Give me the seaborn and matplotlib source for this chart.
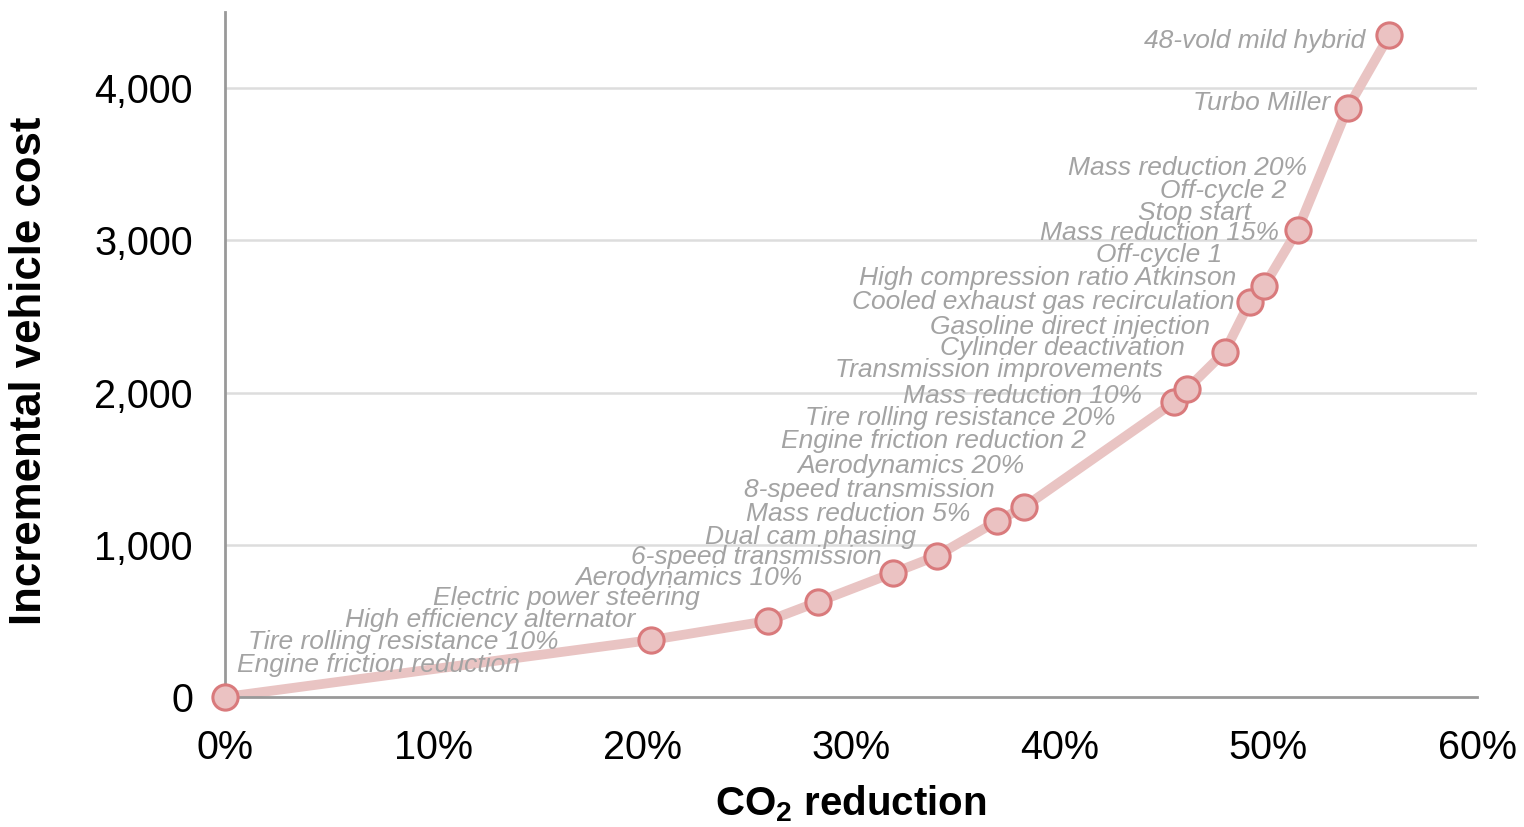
import matplotlib
matplotlib.use("Agg")
import matplotlib.pyplot as plt
import matplotlib.ticker as mticker
import seaborn as sns
import pandas as pd

# cost curve points (CO2 reduction %, incremental cost $)
co2_reduction = [0.0, 20.4, 26.0, 28.4, 32.0, 34.1, 37.0, 38.3, 45.5, 46.1,
                 47.9, 49.1, 49.8, 51.4, 53.8, 55.8]
vehicle_cost = [0, 374, 499, 624, 814, 926, 1156, 1248, 1938, 2023,
                2266, 2594, 2700, 3067, 3869, 4348]

# technology labels and where their text ends (right edge, in data units)
tech_names = ["Engine friction reduction", "Tire rolling resistance 10%",
              "High efficiency alternator", "Electric power steering",
              "Aerodynamics 10%", "6-speed transmission", "Dual cam phasing",
              "Mass reduction 5%", "8-speed transmission", "Aerodynamics 20%",
              "Engine friction reduction 2", "Tire rolling resistance 20%",
              "Mass reduction 10%", "Transmission improvements",
              "Cylinder deactivation", "Gasoline direct injection",
              "Cooled exhaust gas recirculation", "High compression ratio Atkinson",
              "Off-cycle 1", "Mass reduction 15%", "Stop start", "Off-cycle 2",
              "Mass reduction 20%", "Turbo Miller", "48-vold mild hybrid"]
label_x = [14.13, 15.96, 19.65, 22.76, 27.70, 31.48, 33.11, 35.70, 36.89, 38.33,
           41.26, 42.69, 43.94, 44.94, 46.0, 47.2, 48.4, 48.44, 47.77, 50.50,
           49.16, 50.84, 51.85, 52.95, 54.62]
label_y = [210, 361, 506, 650, 782, 920, 1051, 1202, 1360, 1517, 1681, 1833,
           1977, 2148, 2292, 2430, 2594, 2752, 2903, 3048, 3179, 3323, 3475,
           3901, 4309]

df = pd.DataFrame({"co2": co2_reduction, "cost": vehicle_cost})

sns.set_style("white")
plt.rcParams["font.family"] = ["Liberation Sans", "DejaVu Sans"]
plt.rcParams["mathtext.fontset"] = "custom"
plt.rcParams["mathtext.bf"] = "Liberation Sans:bold"
plt.rcParams["mathtext.rm"] = "Liberation Sans"

fig = plt.figure(figsize=(15.24, 8.27), dpi=100)
ax = fig.add_axes([0.1476, 0.1572, 0.8216, 0.8283])

line_col = "#e9c4c3"
edge_col = "#d97a7c"
grid_col = "#dddddd"
axis_col = "#999999"

sns.lineplot(data=df, x="co2", y="cost", ax=ax, color=line_col, lw=7,
             solid_capstyle="round", solid_joinstyle="round", zorder=2)
sns.scatterplot(data=df, x="co2", y="cost", ax=ax, s=330, color="#ebc2c2",
                edgecolor=edge_col, linewidth=2.2, zorder=3, clip_on=False)

for name, lx, ly in zip(tech_names, label_x, label_y):
    ax.text(lx, ly, name, ha="right", va="center", style="italic",
            fontsize=19, color="#a3a3a3", zorder=4)

ax.set_xlim(0, 60)
ax.set_ylim(0, 4500)
ax.set_xticks(range(0, 61, 10))
ax.set_yticks([0, 1000, 2000, 3000, 4000])
ax.xaxis.set_major_formatter(mticker.FuncFormatter(lambda v, p: f"{v:.0f}%"))
ax.yaxis.set_major_formatter(mticker.FuncFormatter(lambda v, p: f"{v:,.0f}"))

# horizontal gridlines, none at zero
for gy in [1000, 2000, 3000, 4000]:
    ax.axhline(gy, color=grid_col, lw=1.8, zorder=1)

for side in ["top", "right"]:
    ax.spines[side].set_visible(False)
for side in ["left", "bottom"]:
    ax.spines[side].set_color(axis_col)
    ax.spines[side].set_linewidth(2)

ax.tick_params(axis="both", length=7, width=1.5, color="#aaaaaa",
               labelsize=28.5, labelcolor="black", direction="out")
ax.tick_params(axis="x", pad=16)
ax.tick_params(axis="y", pad=16)

ax.set_xlabel(r"CO$_\mathbf{2}$ reduction", fontsize=29, fontweight="bold",
              color="black", labelpad=12)
ax.set_ylabel("Incremental vehicle cost", fontsize=31.5, fontweight="bold",
              color="black")
ax.yaxis.set_label_coords(-0.14, 0.476)

fig.savefig("out.png", dpi=100)
